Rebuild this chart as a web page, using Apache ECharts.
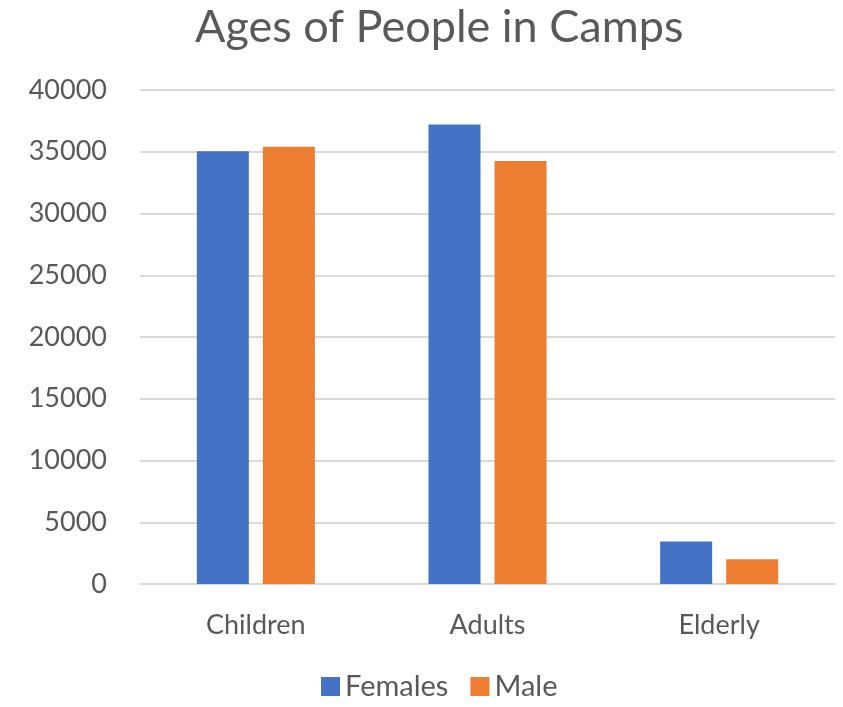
<!DOCTYPE html>
<html><head><meta charset="utf-8">
<script src="https://cdn.jsdelivr.net/npm/echarts@6/dist/echarts.min.js"></script>
<style>html,body{margin:0;padding:0;background:#fff}#c{width:843px;height:707px}</style>
</head><body><div id="c"></div>
<script>
const categories = ['Children', 'Adults', 'Elderly'];
const females = [35050, 37200, 3450];
const male = [35400, 34250, 2000];
const yTicks = [0, 5000, 10000, 15000, 20000, 25000, 30000, 35000, 40000];

const chart = echarts.init(document.getElementById('c'));
const font = 'Lato, "Open Sans", sans-serif';
chart.setOption({
  animation: false,
  textStyle: { fontFamily: font },
  title: {
    text: 'Ages of People in Camps', left: 190, top: 0,
    textStyle: { fontSize: 45, fontWeight: 'normal', color: '#595959', fontFamily: font }
  },
  legend: {
    bottom: 1, left: 316, itemWidth: 19, itemHeight: 19, itemGap: 22,
    icon: 'rect',
    textStyle: { fontSize: 29, color: '#595959', fontFamily: font }
  },
  grid: { left: 140, right: 8, top: 90, bottom: 123 },
  xAxis: {
    type: 'category', data: categories,
    axisLine: { lineStyle: { color: '#d9d9d9', width: 2 } },
    axisTick: { show: false },
    axisLabel: { fontSize: 27, color: '#595959', margin: 28, fontFamily: font }
  },
  yAxis: {
    type: 'value', min: yTicks[0], max: yTicks[yTicks.length - 1], interval: 5000,
    axisLine: { show: false }, axisTick: { show: false },
    splitLine: { lineStyle: { color: '#d9d9d9', width: 2 } },
    axisLabel: { fontSize: 27, color: '#595959', margin: 33, fontFamily: font, formatter: v => String(v) }
  },
  series: [
    { name: 'Females', type: 'bar', data: females, itemStyle: { color: '#4472c4' }, barWidth: 52, barGap: '27%' },
    { name: 'Male', type: 'bar', data: male, itemStyle: { color: '#ed7d31' }, barWidth: 52, barGap: '27%' }
  ]
});
</script></body></html>
